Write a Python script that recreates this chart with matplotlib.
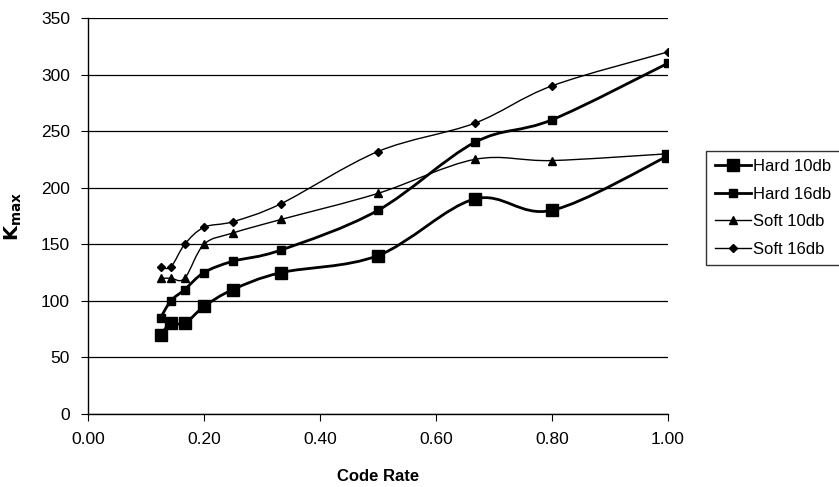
import matplotlib
matplotlib.use("Agg")
import matplotlib.pyplot as plt
from matplotlib.path import Path
from matplotlib.patches import PathPatch
from matplotlib.lines import Line2D

plt.rcParams['font.family'] = ['Liberation Sans', 'DejaVu Sans']

code_rate = [1/8, 1/7, 1/6, 1/5, 1/4, 1/3, 1/2, 2/3, 4/5, 1.0]
hard_10 = [70, 80, 80, 95, 110, 125, 140, 190, 180, 228]
hard_16 = [85, 100, 110, 125, 135, 145, 180, 240, 260, 310]
soft_10 = [120, 120, 120, 150, 160, 172, 195, 225, 224, 230]
soft_16 = [130, 130, 150, 165, 170, 186, 232, 257, 290, 320]

series = [
    ("Hard 10db", hard_10, 's', 9, 2.0),
    ("Hard 16db", hard_16, 's', 5.5, 2.0),
    ("Soft 10db", soft_10, '^', 6, 1.0),
    ("Soft 16db", soft_16, 'D', 4.5, 1.0),
]


def smooth_path(xs, ys):
    # Excel-style smoothed line: Catmull-Rom through the points as bezier segments
    pts = list(zip(xs, ys))
    verts = [pts[0]]
    codes = [Path.MOVETO]
    n = len(pts)
    for i in range(n - 1):
        p0 = pts[i - 1] if i > 0 else pts[i]
        p1 = pts[i]
        p2 = pts[i + 1]
        p3 = pts[i + 2] if i + 2 < n else pts[i + 1]
        c1 = (p1[0] + (p2[0] - p0[0]) / 6, p1[1] + (p2[1] - p0[1]) / 6)
        c2 = (p2[0] - (p3[0] - p1[0]) / 6, p2[1] - (p3[1] - p1[1]) / 6)
        verts += [c1, c2, p2]
        codes += [Path.CURVE4] * 3
    return Path(verts, codes)


fig = plt.figure(figsize=(8.39, 4.87), dpi=100)
ax = fig.add_axes([0.105, 0.150, 0.691, 0.813])

handles = []
for name, vals, mk, ms, lw in series:
    ax.add_patch(PathPatch(smooth_path(code_rate, vals), fill=False,
                           edgecolor='black', lw=lw, zorder=3))
    ax.plot(code_rate, vals, linestyle='none', marker=mk, ms=ms,
            color='black', zorder=4)
    handles.append(Line2D([], [], color='black', lw=lw, marker=mk, ms=ms))

ax.set_xlim(0, 1.0)
ax.set_ylim(0, 350)
ax.set_xticks([0, 0.2, 0.4, 0.6, 0.8, 1.0])
ax.set_xticklabels(["0.00", "0.20", "0.40", "0.60", "0.80", "1.00"])
ax.set_yticks(range(0, 351, 50))
ax.yaxis.grid(True, color='black', lw=0.9)
ax.set_axisbelow(True)
for s in ['top', 'right']:
    ax.spines[s].set_visible(False)
ax.spines['left'].set_linewidth(1.0)
ax.spines['bottom'].set_linewidth(1.0)
ax.tick_params(direction='out', length=5, labelsize=12.5, pad=8)

ax.set_xlabel("Code Rate", fontsize=12, fontweight='bold', labelpad=16)
ax.set_ylabel(r"$\mathbf{K_{max}}$", fontsize=14, labelpad=12)

leg = fig.legend(handles, [s[0] for s in series], loc='upper left',
                 bbox_to_anchor=(0.842, 0.69), frameon=True, fancybox=False,
                 edgecolor='black', fontsize=12, handlelength=2.2,
                 handletextpad=0.1, borderpad=0.5, labelspacing=0.75,
                 borderaxespad=0)
leg.get_frame().set_linewidth(1.0)

fig.savefig("out.png", dpi=100)
